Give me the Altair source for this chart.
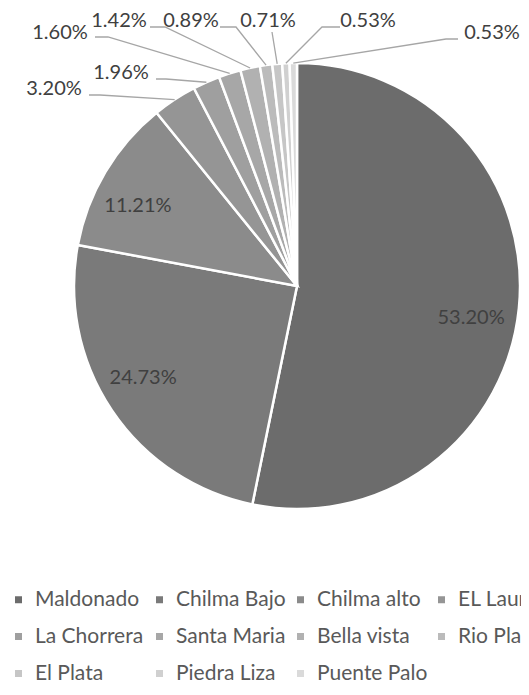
import math
import altair as alt
import pandas as pd

# ---------------- data ----------------
categories = ["Maldonado", "Chilma Bajo", "Chilma alto", "EL Laurel", "La Chorrera",
              "Santa Maria", "Bella vista", "Rio Plata", "El Plata", "Piedra Liza", "Puente Palo"]
shares = [53.20, 24.73, 11.21, 3.20, 1.96, 1.60, 1.42, 0.89, 0.71, 0.53, 0.53]
share_labels = ["53.20%", "24.73%", "11.21%", "3.20%", "1.96%", "1.60%",
                "1.42%", "0.89%", "0.71%", "0.53%", "0.53%"]

# ---------------- styles / layout ----------------
slice_colors = ["#6c6c6c", "#7a7a7a", "#8b8b8b", "#959595", "#9f9f9f", "#a7a7a7",
                "#b1b1b1", "#bbbbbb", "#c6c6c6", "#d0d0d0", "#dadada"]
W, H = 513, 675          # whole svg (autosize none, padding 0)
R = 223
INNER_R = 177
CX, CY = 289, 278        # pie centre inside the view
FONT = "Lato"

# labels inside the pie: nudge (px) from the mid-angle point
inside_nudge = {0: (-2, 14), 1: (-7, -7), 2: (-7, 11)}
# outside label layout (plot px): label centre, leader anchor, leader elbow
outside_layout = {
    3: (46, 81, 81, 87, 92, 87),
    4: (113, 65, 148, 71, 158, 71),
    5: (52, 25, 87, 29, 100, 29),
    6: (111, 13, 142, 19, 157, 19),
    7: (183, 13, 212, 19, 228, 19),
    8: (260, 13, 264, 24, 264, 24),
    9: (360, 13, 332, 19, 314, 19),
    10: (484, 25, 450, 31, 438, 31),
}

df = pd.DataFrame({
    "idx": list(range(len(categories))),
    "category": categories,
    "share": shares,
})

# mid angles of the slices (computed from the data)
total = sum(shares)
cum = 0.0
mids = []
for s in shares:
    mids.append((cum + s / 2) / total * 2 * math.pi)
    cum += s


def polar(i, r):
    return CX + r * math.sin(mids[i]), CY - r * math.cos(mids[i])


lab_rows, line_rows = [], []
for i, (nx, ny) in inside_nudge.items():
    px, py = polar(i, INNER_R)
    lab_rows.append({"x": px + nx, "y": py + ny, "text": share_labels[i]})
for i, (tx, ty, ax, ay, ex, ey) in outside_layout.items():
    lab_rows.append({"x": tx, "y": ty, "text": share_labels[i]})
    pts = [(ax, ay), (ex, ey), polar(i, R)]
    for o, (px, py) in enumerate(pts):
        line_rows.append({"k": i, "o": o, "x": px, "y": py})
lab_df = pd.DataFrame(lab_rows)
line_df = pd.DataFrame(line_rows)

legend = alt.Legend(
    orient="none", legendX=0, legendY=581, columns=4, direction="horizontal", title=None,
    padding=0, offset=0,
    symbolType="square", symbolSize=49, symbolStrokeWidth=0,
    labelFont=FONT, labelFontSize=21, labelColor="#595959", labelOffset=6,
    columnPadding=3, rowPadding=15, gridAlign="all", labelLimit=300,
)

pie = alt.Chart(df).mark_arc(outerRadius=R, stroke="white", strokeWidth=2.5).encode(
    x=alt.value(CX),
    y=alt.value(CY),
    theta=alt.Theta("share:Q", stack=True),
    color=alt.Color("category:N", scale=alt.Scale(domain=categories, range=slice_colors),
                    sort=categories, legend=legend),
    order=alt.Order("idx:Q"),
)

leaders = alt.Chart(line_df).mark_line(color="#a6a6a6", strokeWidth=1.3).encode(
    x=alt.X("x:Q", scale=None, axis=None),
    y=alt.Y("y:Q", scale=None, axis=None),
    detail="k:N",
    order="o:Q",
)

labels = alt.Chart(lab_df).mark_text(font=FONT, fontSize=20, color="#404040",
                                     align="center", baseline="middle").encode(
    x=alt.X("x:Q", scale=None, axis=None),
    y=alt.Y("y:Q", scale=None, axis=None),
    text="text:N",
)

chart = alt.layer(pie, leaders, labels).properties(
    width=W, height=H, padding=0, background="white",
    autosize=alt.AutoSizeParams(type="none"),
).configure_view(stroke=None)

chart.save("out.html", embed_options={"renderer": "svg", "actions": False})
